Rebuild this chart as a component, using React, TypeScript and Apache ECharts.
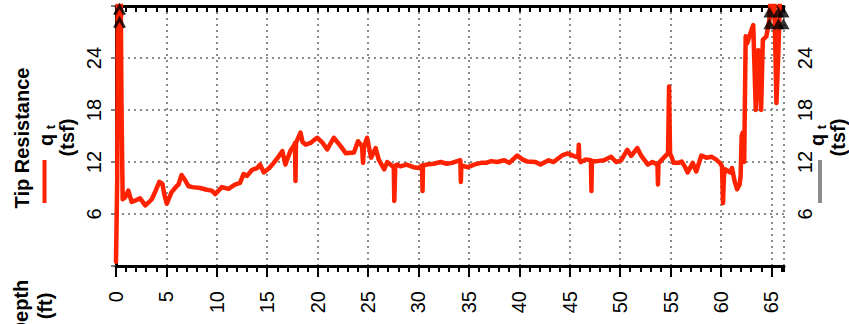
import React, { useEffect, useRef } from "react";
import * as echarts from "echarts";

// Depth (ft) and tip resistance q_t (tsf)
const depthFt = [
  0.0, 0.12, 0.2, 0.45, 0.55, 0.66, 0.9, 1.22, 1.55, 2.0, 2.39, 2.9, 3.2, 3.55, 3.9, 4.3, 4.6, 4.8, 5.04, 5.5,
  6.0, 6.2, 6.5, 6.8, 7.2, 7.6, 8.35, 9.0, 9.5, 9.85, 10.5, 11.15, 11.8, 12.3, 12.65, 13.0, 13.5, 14.0, 14.3, 14.65,
  15.2, 15.65, 16.1, 16.5, 16.8, 17.3, 17.7, 17.75, 17.8, 17.85, 18.3, 18.5, 18.8, 19.3, 19.6, 19.95, 20.5, 20.95, 21.6, 22.3,
  22.8, 23.6, 24.0, 24.4, 24.5, 24.6, 24.9, 25.3, 25.75, 26.05, 26.6, 26.9, 27.55, 27.6, 27.7, 27.9, 28.2, 28.8, 29.5, 30.0,
  30.35, 30.4, 30.45, 30.8, 31.5, 32.2, 32.8, 33.3, 33.85, 34.15, 34.2, 34.25, 34.9, 35.5, 36.2, 36.7, 37.2, 37.8, 38.5, 39.0,
  39.8, 40.3, 40.8, 41.6, 42.1, 42.9, 43.4, 44.3, 44.8, 45.2, 45.6, 45.85, 45.9, 45.95, 46.1, 46.6, 47.1, 47.15, 47.2, 47.7,
  48.4, 49.1, 49.6, 50.1, 50.7, 51.1, 51.7, 52.1, 52.75, 53.2, 53.7, 53.75, 53.8, 54.0, 54.5, 54.75, 54.85, 54.95, 55.1, 55.3,
  55.8, 56.1, 56.4, 56.7, 57.2, 57.55, 58.05, 58.55, 59.05, 59.5, 59.9, 60.1, 60.2, 60.3, 60.45, 60.9, 61.1, 61.35, 61.6, 61.85,
  61.95, 62.05, 62.15, 62.3, 62.45, 62.6, 62.9, 63.2, 63.45, 63.7, 63.8, 63.98, 64.15, 64.5, 64.8, 65.05, 65.25, 65.5, 65.7, 65.9,
  66.1, 66.3
];
const qtTsf = [
  0.5, 10, 34, 34, 18, 7.7, 7.9, 8.7, 7.4, 7.6, 7.8, 7.0, 7.3, 7.7, 8.6, 9.7, 9.5, 8.2, 7.2, 8.5,
  9.2, 9.4, 10.5, 10.0, 9.2, 9.1, 9.0, 8.8, 8.7, 8.3, 9.1, 8.9, 9.4, 9.6, 10.6, 10.4, 11.1, 11.3, 11.7, 10.8,
  11.3, 11.9, 12.6, 13.25, 11.7, 13.3, 14.0, 14.2, 9.8, 14.2, 15.4, 14.3, 14.0, 14.2, 14.5, 14.8, 14.2, 13.45, 14.8, 13.8,
  13.0, 13.1, 14.4, 13.8, 11.9, 13.8, 14.8, 12.5, 13.6, 12.3, 11.15, 12.0, 11.4, 7.5, 11.6, 11.7, 11.5, 11.7, 11.4, 11.3,
  11.6, 8.65, 11.6, 11.7, 11.8, 12.0, 11.8, 11.9, 12.1, 12.2, 9.7, 11.6, 11.4, 11.7, 11.9, 11.9, 12.1, 12.0, 12.2, 11.9,
  12.75, 12.3, 12.05, 12.0, 11.7, 12.2, 12.0, 12.8, 13.0, 12.8, 12.6, 12.7, 14.0, 12.3, 12.0, 12.3, 12.2, 8.65, 12.1, 12.1,
  12.2, 12.6, 12.0, 12.2, 13.4, 12.7, 13.6, 12.7, 11.7, 12.0, 11.7, 9.4, 11.8, 12.1, 12.7, 13.0, 20.7, 13.0, 12.6, 11.9,
  11.9, 12.05, 11.5, 10.8, 11.9, 10.9, 12.75, 12.5, 12.6, 12.3, 11.9, 11.5, 7.24, 10.5, 11.15, 10.8, 11.3, 9.8, 8.85, 9.4,
  10.4, 15.0, 15.4, 12.0, 26.5, 25.7, 26.8, 27.8, 18.0, 24.9, 23.0, 18.0, 26.1, 26.5, 28.4, 33, 33, 18.8, 24.9, 33,
  33, 33
];

// Off-scale markers (values above the axis maximum)
const chevronDepths = [0.35, 0.35];
const chevronLevels = [29.5, 28.0];
const triangleDepths = [64.8, 65.7, 66.2, 64.8, 65.7, 66.2];
const triangleLevels = [29.3, 29.3, 29.3, 27.95, 27.95, 27.95];

const qtTickLabels = [6, 12, 18, 24];
const depthMin = 0;
const depthMax = 66.25;
const qtMin = 0;
const qtMax = 30;

const FONT = "'Liberation Sans', Arial, Helvetica, sans-serif";

export default function App() {
  const ref = useRef<HTMLDivElement>(null);

  useEffect(() => {
    const chart = echarts.init(ref.current as HTMLDivElement, null, { renderer: "svg" });
    const lineData = depthFt.map((d, i) => [d, qtTsf[i]]);
    const chevronData = chevronDepths.map((d, i) => [d, chevronLevels[i]]);
    const triData = triangleDepths.map((d, i) => [d, triangleLevels[i]]);

    const dotted = { color: "#8a8a8a", width: 2, type: [2, 4] as number[] };
    const yLabelFmt = (v: number) => (qtTickLabels.indexOf(v) >= 0 ? String(v) : "");

    const rotText = (x: number, y: number, text: string, size: number, weight = "bold", color = "#000") => ({
      type: "text",
      x,
      y,
      rotation: Math.PI / 2,
      style: {
        text,
        fill: color,
        font: `${weight} ${size}px ${FONT}`,
        align: "center",
        verticalAlign: "middle",
      },
      z: 10,
    });

    chart.setOption({
      animation: false,
      backgroundColor: "#ffffff",
      grid: { left: 116, right: 65, top: 6, bottom: 58, containLabel: false },
      xAxis: [
        {
          type: "value",
          position: "bottom",
          min: depthMin,
          max: depthMax,
          interval: 5,
          axisLine: { show: true, lineStyle: { color: "#000", width: 3 } },
          axisTick: { show: true, length: 11, lineStyle: { color: "#000", width: 2 } },
          axisLabel: {
            show: true,
            rotate: 90,
            margin: 25,
            fontSize: 20,
            fontFamily: FONT,
            color: "#000",
            showMaxLabel: false,
          },
          splitLine: { show: true, lineStyle: dotted },
        },
        {
          type: "value",
          position: "bottom",
          min: depthMin,
          max: depthMax,
          interval: 1,
          axisLine: { show: false },
          axisTick: { show: true, length: 6, lineStyle: { color: "#000", width: 2 } },
          axisLabel: { show: false },
          splitLine: { show: false },
        },
        {
          type: "value",
          position: "top",
          min: depthMin,
          max: depthMax,
          interval: 1,
          axisLine: { show: true, lineStyle: { color: "#000", width: 3 } },
          axisTick: { show: true, inside: true, length: 6, lineStyle: { color: "#000", width: 2 } },
          axisLabel: { show: false },
          splitLine: { show: false },
        },
      ],
      yAxis: [
        {
          type: "value",
          position: "left",
          min: qtMin,
          max: qtMax,
          interval: 6,
          axisLine: { show: true, lineStyle: { color: "#000", width: 3 } },
          axisTick: { show: true, length: 5, lineStyle: { color: "#555", width: 1.5 } },
          axisLabel: {
            show: true,
            rotate: 90,
            margin: 12,
            fontSize: 20,
            fontFamily: FONT,
            color: "#000",
            formatter: yLabelFmt,
          },
          splitLine: { show: true, lineStyle: dotted },
        },
        {
          type: "value",
          position: "right",
          min: qtMin,
          max: qtMax,
          interval: 6,
          axisLine: { show: true, lineStyle: { color: "#000", width: 3 } },
          axisTick: { show: false },
          axisLabel: {
            show: true,
            rotate: 90,
            margin: 11,
            fontSize: 20,
            fontFamily: FONT,
            color: "#000",
            formatter: yLabelFmt,
          },
          splitLine: { show: false },
        },
      ],
      series: [
        {
          type: "line",
          name: "qt",
          xAxisIndex: 0,
          yAxisIndex: 0,
          data: lineData,
          showSymbol: false,
          symbol: "none",
          clip: true,
          lineStyle: { color: "#ff2200", width: 4.5, join: "round", cap: "round" },
          z: 2,
        },
        {
          type: "scatter",
          xAxisIndex: 0,
          yAxisIndex: 0,
          data: chevronData,
          symbol: "path://M0,10L5,0L10,10",
          symbolSize: [10, 9],
          clip: false,
          itemStyle: { color: "none", borderColor: "#000", borderWidth: 3 },
          z: 4,
        },
        {
          type: "scatter",
          xAxisIndex: 0,
          yAxisIndex: 0,
          data: triData,
          symbol: "triangle",
          symbolSize: [12, 11],
          clip: false,
          itemStyle: { color: "#000" },
          z: 4,
        },
      ],
      graphic: [
        rotText(21.5, 138, "Tip Resistance", 20),
        { type: "line", shape: { x1: 44.5, y1: 160, x2: 44.5, y2: 203 }, style: { stroke: "#ff2200", lineWidth: 4 }, z: 10 },
        rotText(45.5, 140, "q", 20),
        rotText(50.5, 127, "t", 13),
        rotText(66.5, 137.5, "(tsf)", 20),
        { type: "line", shape: { x1: 820, y1: 160, x2: 820, y2: 203 }, style: { stroke: "#8c8c8c", lineWidth: 4 }, z: 10 },
        rotText(816.5, 140, "q", 20),
        rotText(821.5, 127, "t", 13),
        rotText(838, 137.5, "(tsf)", 20),
        rotText(21, 308, "Depth", 20),
        rotText(45, 306, "(ft)", 20),
      ],
    });

    return () => chart.dispose();
  }, []);

  return (
    <div
      ref={ref}
      style={{ position: "fixed", left: 0, top: 0, width: 849, height: 324, background: "#fff" }}
    />
  );
}
